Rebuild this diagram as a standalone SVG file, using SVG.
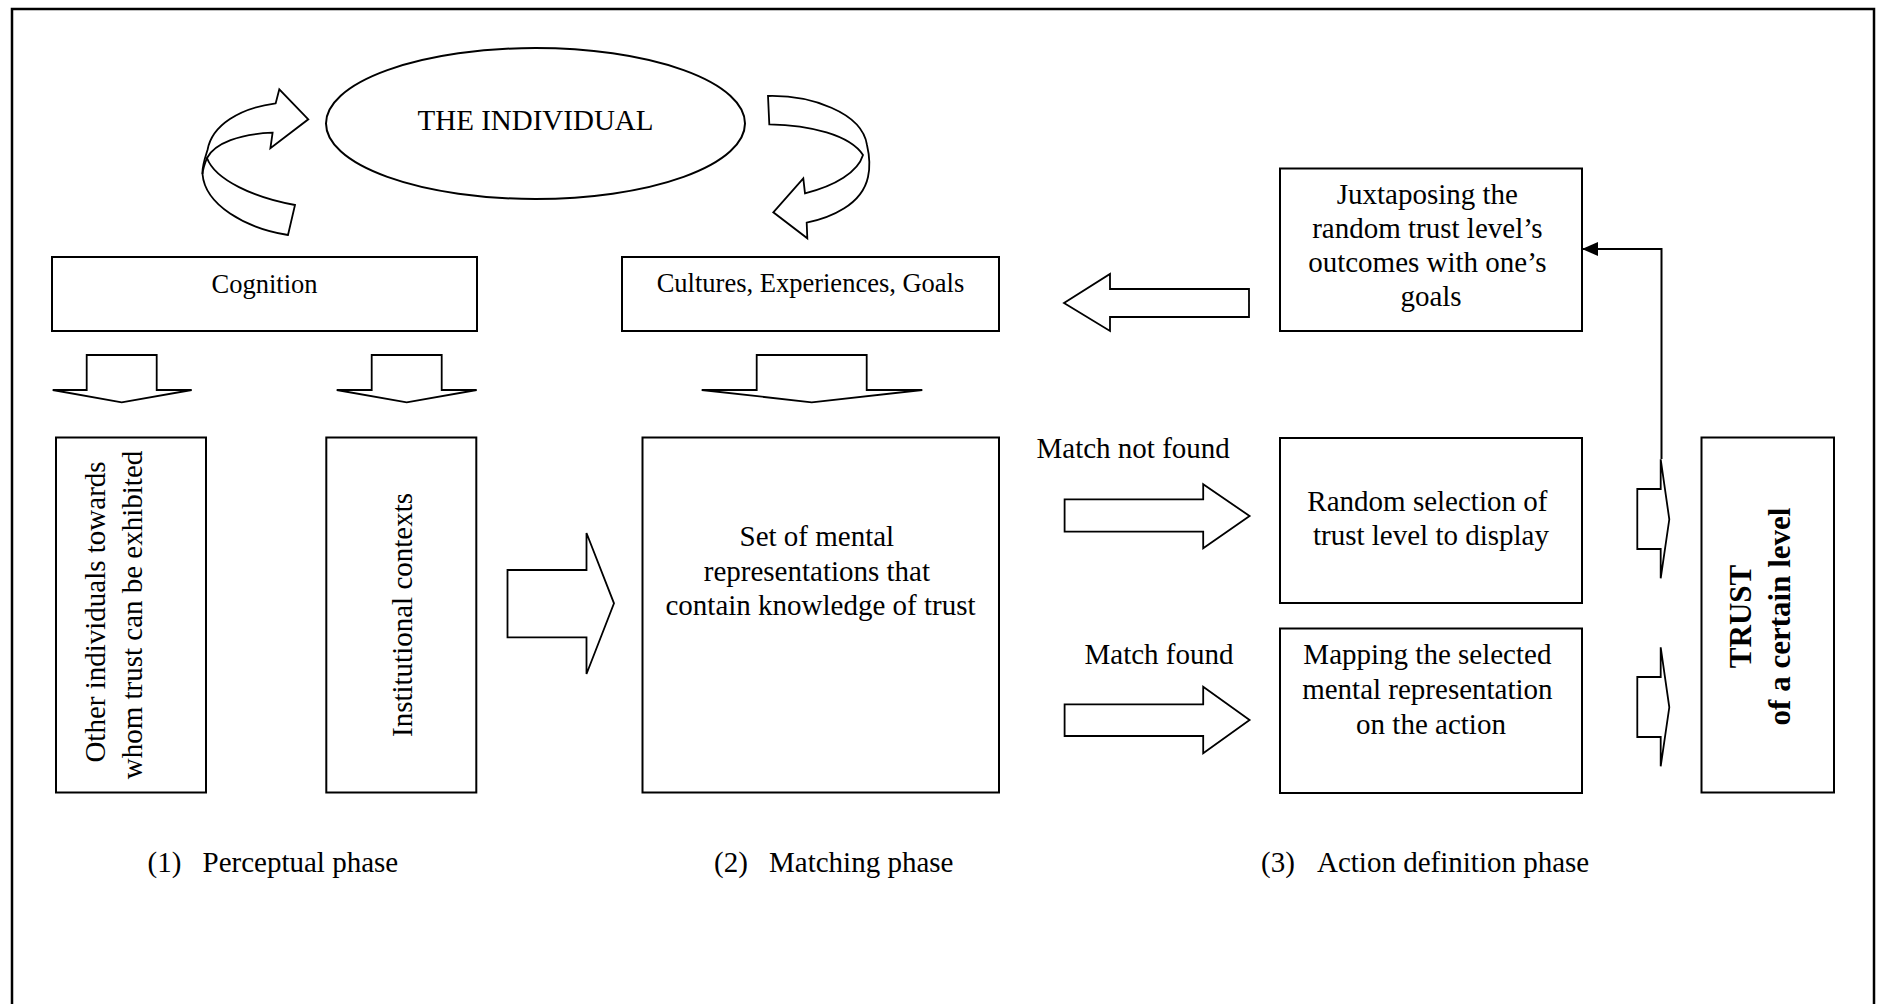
<svg xmlns="http://www.w3.org/2000/svg" width="1879" height="1004" viewBox="0 0 1879 1004">
<style>
.frame{fill:none;stroke:#000;stroke-width:2.5}
.box{fill:#fff;stroke:#000;stroke-width:2}
.arr{fill:#fff;stroke:#000;stroke-width:1.8;stroke-linejoin:miter}
.t{font-family:"Liberation Serif","Times New Roman",serif;fill:#000}
.s26{font-size:26.5px}
.s29{font-size:29px}
.b31{font-size:31px;font-weight:bold}
.conn{fill:none;stroke:#000;stroke-width:2}
</style>
<defs>
<marker id="ah" markerUnits="userSpaceOnUse" markerWidth="16" markerHeight="14" refX="15" refY="7" orient="auto">
<path d="M0,0 L16,7 L0,14 z" fill="#000"/>
</marker>
</defs>
<rect fill="#fff" x="0" y="0" width="1879" height="1004"/>
<rect class="frame" x="12" y="9" width="1862" height="1010"/>

<g id="individual">
<ellipse class="box" cx="535.5" cy="123.5" rx="209.5" ry="75.5"/>
<text class="t s29" x="535.5" y="130" text-anchor="middle">THE INDIVIDUAL</text>
</g>

<g id="cycle-left">
<path class="arr" d="M295,205 C255,198 215,180 207,158 C215,143 240,134 272.6,132.7 L270.4,148.3 L308.3,119.3 L279.3,89.3 L275.7,103.3 C240,108 212,125 207.5,150 C205,158 202,166 202.5,174 C205,205 245,228 288,235 Z"/>
<path class="arr" fill="none" d="M207,158 C205,163 203,168 202.5,174"/>
</g>
<g id="cycle-right">
<path class="arr" d="M768,96 C810,95 862,112 867,145 C870,158 870,168 868,177 C862,205 830,218 806.7,222.7 L807.3,238.3 L773.3,212.3 L803.3,178.3 L805,193.3 C835,186 858,172 863,155 C850,135 810,125 769.3,124.3 Z"/>
</g>

<g id="cognition">
<rect class="box" x="52" y="257" width="425" height="74"/>
<text class="t s26" x="264.5" y="292.5" text-anchor="middle">Cognition</text>
</g>
<g id="cultures">
<rect class="box" x="622" y="257" width="377" height="74"/>
<text class="t s26" x="810.5" y="291.5" text-anchor="middle">Cultures, Experiences, Goals</text>
</g>
<g id="juxtaposing">
<rect class="box" x="1280" y="168.5" width="302" height="162.5"/>
<text class="t s29" text-anchor="middle">
<tspan x="1431" y="204">Juxtaposing the</tspan>
<tspan x="1431" y="238">random trust level’s</tspan>
<tspan x="1431" y="272">outcomes with one’s</tspan>
<tspan x="1431" y="306">goals</tspan>
</text>
</g>

<g id="other-individuals">
<rect class="box" x="56" y="437.5" width="150" height="355"/>
<text class="t s29" transform="translate(105,612) rotate(-90)" text-anchor="middle">Other individuals towards</text>
<text class="t s29" transform="translate(142,615) rotate(-90)" text-anchor="middle">whom trust can be exhibited</text>
</g>
<g id="institutional">
<rect class="box" x="326.3" y="437.5" width="150" height="355"/>
<text class="t s29" transform="translate(412,615) rotate(-90)" text-anchor="middle">Institutional contexts</text>
</g>
<g id="mental-set">
<rect class="box" x="642.5" y="437.5" width="356.5" height="355"/>
<text class="t s29" text-anchor="middle">
<tspan x="820.5" y="546">Set of mental</tspan>
<tspan x="820.5" y="580.5">representations that</tspan>
<tspan x="820.5" y="614.5">contain knowledge of trust</tspan>
</text>
</g>
<g id="random-selection">
<rect class="box" x="1280" y="438" width="302" height="165"/>
<text class="t s29" text-anchor="middle">
<tspan x="1431" y="510.5">Random selection of</tspan>
<tspan x="1431" y="545">trust level to display</tspan>
</text>
</g>
<g id="mapping">
<rect class="box" x="1280" y="628.5" width="302" height="164.5"/>
<text class="t s29" text-anchor="middle">
<tspan x="1431" y="664">Mapping the selected</tspan>
<tspan x="1431" y="699">mental representation</tspan>
<tspan x="1431" y="734">on the action</tspan>
</text>
</g>
<g id="trust">
<rect class="box" x="1701.5" y="437.5" width="132.5" height="355"/>
<text class="t b31" transform="translate(1750.5,616.5) rotate(-90)" text-anchor="middle">TRUST</text>
<text class="t b31" transform="translate(1790,616.5) rotate(-90)" text-anchor="middle">of a certain level</text>
</g>

<g id="connectors">
<polygon class="arr" points="86.7,355 156.7,355 156.7,390 191.7,390 121.7,402.3 52.7,390 86.7,390"/>
<polygon class="arr" points="371.7,355 441.7,355 441.7,390 476.7,390 406.7,402.3 336.7,390 371.7,390"/>
<polygon class="arr" points="756.7,355 866.7,355 866.7,390 922.3,390 811.7,402.3 701.7,390 756.7,390"/>
<polygon class="arr" points="1249,289 1110,289 1110,274 1064,303 1110,331 1110,317 1249,317"/>
<polygon class="arr" points="507.5,570 586.5,570 586.5,533 614,603.3 586.5,674 586.5,637.3 507.5,637.3"/>
<polygon class="arr" points="1064.6,499.3 1203.2,499.3 1203.2,484.3 1249.6,516 1203.2,548.3 1203.2,531.7 1064.6,531.7"/>
<polygon class="arr" points="1064.6,704.3 1203.2,704.3 1203.2,686.7 1249.6,720 1203.2,753.3 1203.2,736 1064.6,736"/>
<polygon class="arr" points="1637.3,489 1660.7,489 1660.7,459.3 1669.3,519.3 1660.7,578.3 1660.7,549 1637.3,549"/>
<polygon class="arr" points="1637.3,677 1660.7,677 1660.7,647.3 1669.3,707.3 1660.7,766.3 1660.7,737 1637.3,737"/>
<path class="conn" d="M1661.5,459 V249 H1583" marker-end="url(#ah)"/>
<text class="t s29" x="1036.5" y="457.5">Match not found</text>
<text class="t s29" x="1084.5" y="663.5">Match found</text>
</g>

<g id="phases">
<text class="t s29" y="872"><tspan x="147.5">(1)</tspan><tspan x="202.5">Perceptual phase</tspan></text>
<text class="t s29" y="872"><tspan x="714">(2)</tspan><tspan x="769">Matching phase</tspan></text>
<text class="t s29" y="872"><tspan x="1261">(3)</tspan><tspan x="1317">Action definition phase</tspan></text>
</g>
</svg>
